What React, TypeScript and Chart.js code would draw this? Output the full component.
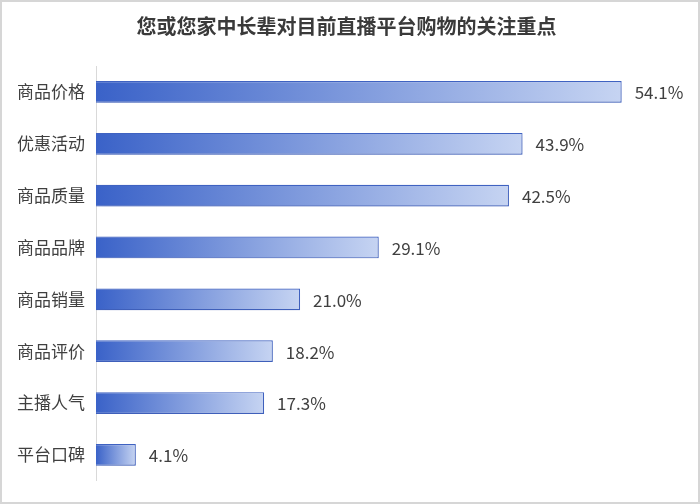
import React, { useEffect, useRef } from 'react';
import { Chart, registerables } from 'chart.js';

Chart.register(...registerables);

const categories = ['商品价格', '优惠活动', '商品质量', '商品品牌', '商品销量', '商品评价', '主播人气', '平台口碑'];
const shares = [54.1, 43.9, 42.5, 29.1, 21.0, 18.2, 17.3, 4.1];

const FONT = '"Noto Sans CJK SC", "Microsoft YaHei", sans-serif';

// soft shadow under the bars
const shadowPlugin = {
  id: 'barShadow',
  beforeDatasetsDraw(chart: any) {
    const ctx = chart.ctx;
    ctx.save();
    ctx.shadowColor = 'rgba(60, 80, 140, 0.18)';
    ctx.shadowBlur = 7;
    ctx.shadowOffsetX = 2;
    ctx.shadowOffsetY = 4;
  },
  afterDatasetsDraw(chart: any) {
    chart.ctx.restore();
  },
};

// value labels at the end of each bar
const labelPlugin = {
  id: 'endLabels',
  afterDatasetsDraw(chart: any) {
    const ctx = chart.ctx;
    const meta = chart.getDatasetMeta(0);
    ctx.save();
    ctx.font = `17px ${FONT}`;
    ctx.fillStyle = '#404040';
    ctx.textAlign = 'left';
    ctx.textBaseline = 'middle';
    meta.data.forEach((bar: any, i: number) => {
      ctx.fillText(shares[i].toFixed(1) + '%', bar.x + 13, bar.y + 1);
    });
    ctx.restore();
  },
};

const App: React.FC = () => {
  const canvasRef = useRef<HTMLCanvasElement>(null);
  const chartRef = useRef<Chart | null>(null);

  useEffect(() => {
    if (!canvasRef.current) return;
    const ctx = canvasRef.current.getContext('2d');
    if (!ctx) return;

    if (chartRef.current) chartRef.current.destroy();

    chartRef.current = new Chart(ctx, {
      type: 'bar',
      data: {
        labels: categories,
        datasets: [
          {
            data: shares,
            backgroundColor: (c: any) => {
              const chart = c.chart;
              if (!chart.chartArea) return '#5b7fd6';
              const xs = chart.scales.x;
              const x0 = xs.getPixelForValue(0);
              const x1 = xs.getPixelForValue(shares[c.dataIndex] ?? 0);
              const g = chart.ctx.createLinearGradient(x0, 0, x1, 0);
              g.addColorStop(0, '#3a62c8');
              g.addColorStop(1, '#c6d4f2');
              return g;
            },
            borderColor: '#3f62c2',
            borderWidth: 1.2,
            categoryPercentage: 1,
            barPercentage: 0.42,
          },
        ],
      },
      options: {
        indexAxis: 'y',
        animation: false,
        responsive: true,
        maintainAspectRatio: false,
        layout: { padding: { left: 12, right: 19, top: 0, bottom: 20 } },
        plugins: {
          legend: { display: false },
          tooltip: { enabled: false },
          title: {
            display: true,
            text: '您或您家中长辈对目前直播平台购物的关注重点',
            color: '#3a3a3a',
            font: { family: FONT, size: 20, weight: 'bold' },
            padding: { top: 12, bottom: 28 },
          },
        },
        scales: {
          x: {
            display: false,
            min: 0,
            max: 60,
          },
          y: {
            afterFit: (s: any) => {
              s.width = 82;
            },
            grid: { display: false, drawTicks: false },
            border: { display: true, color: '#d9d9d9', width: 1 },
            ticks: {
              color: '#404040',
              padding: 11,
              font: { family: FONT, size: 17 },
            },
          },
        },
      },
      plugins: [shadowPlugin, labelPlugin],
    });

    return () => {
      if (chartRef.current) {
        chartRef.current.destroy();
        chartRef.current = null;
      }
    };
  }, []);

  return (
    <div
      style={{
        position: 'fixed',
        left: 0,
        top: 0,
        width: 700,
        height: 504,
        boxSizing: 'border-box',
        border: '2px solid #d6d6d6',
        background: '#ffffff',
      }}
    >
      <canvas ref={canvasRef} />
    </div>
  );
};

export default App;
